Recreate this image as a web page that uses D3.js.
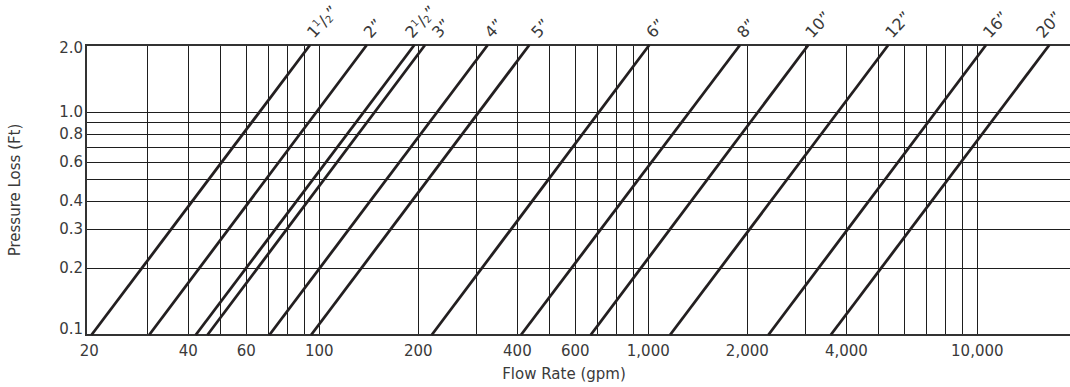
<!DOCTYPE html>
<html>
<head>
<meta charset="utf-8">
<script src="https://cdn.jsdelivr.net/npm/d3@7"></script>
<style>
  html, body { margin: 0; padding: 0; background: #fff; }
  svg { display: block; }
  text { font-family: "DejaVu Sans", sans-serif; fill: #3a3a3a; }
</style>
</head>
<body>
<svg id="chart" width="1070" height="387"></svg>
<script>
// ---- data ----
const pipeSizes   = ["1½", "2", "2½", "3", "4", "5", "6", "8", "10", "12", "16", "20"];
// flow (gpm) where each pipe line meets 0.1 ft and 2.0 ft of pressure loss
const flowAtLow   = [20.3, 30.4, 42.1, 45.7, 70.5, 94.4, 219.6, 410, 668, 1164, 2316, 3584];
const flowAtHigh  = [93.7, 139.4, 194.5, 209.6, 325, 434.8, 1007, 1900, 3064, 5363, 10626, 16550];
const lossLow     = 0.1;
const lossHigh    = 2.0;

const xTickValues = [20, 40, 60, 100, 200, 400, 600, 1000, 2000, 4000, 10000];
const xGridValues = [30, 40, 50, 60, 70, 80, 90, 100, 200, 300, 400, 500, 600, 700, 800, 900,
                     1000, 2000, 3000, 4000, 5000, 6000, 7000, 8000, 9000, 10000];
const yTickValues = [2.0, 1.0, 0.8, 0.6, 0.4, 0.3, 0.2, 0.1];
const yGridValues = [1.0, 0.9, 0.8, 0.7, 0.6, 0.5, 0.4, 0.3, 0.2];

const xTitle = "Flow Rate (gpm)";
const yTitle = "Pressure Loss (Ft)";

// ---- layout ----
const pL = 86, pR = 1070, pT = 45, pB = 335;
const svg = d3.select("#chart");

const x = d3.scaleLog().domain([19.54, 19130]).range([pL, pR]);
const y = d3.scaleLog().domain([0.1, 2.0]).range([pB, pT]);

const ink = "#231f20";
const grid = svg.append("g").attr("shape-rendering", "crispEdges");

// vertical grid
grid.selectAll("line.vx").data(xGridValues).join("line")
  .attr("x1", d => Math.round(x(d)) + 0.5).attr("x2", d => Math.round(x(d)) + 0.5)
  .attr("y1", pT).attr("y2", pB)
  .attr("stroke", "#1e1e1e").attr("stroke-width", 1);

// horizontal grid
grid.selectAll("line.hy").data(yGridValues).join("line")
  .attr("x1", pL).attr("x2", pR)
  .attr("y1", d => Math.round(y(d)) + 0.5).attr("y2", d => Math.round(y(d)) + 0.5)
  .attr("stroke", "#1e1e1e").attr("stroke-width", 1);

// frame (top, bottom, left)
grid.append("line").attr("x1", pL - 1).attr("x2", pR).attr("y1", pT).attr("y2", pT)
  .attr("stroke", "#333").attr("stroke-width", 2);
grid.append("line").attr("x1", pL - 1).attr("x2", pR).attr("y1", pB).attr("y2", pB)
  .attr("stroke", "#333").attr("stroke-width", 2);
grid.append("line").attr("x1", pL).attr("x2", pL).attr("y1", pT).attr("y2", pB + 1)
  .attr("stroke", "#333").attr("stroke-width", 2);

// pipe lines
svg.append("g").selectAll("line").data(pipeSizes).join("line")
  .attr("x1", (d, i) => x(flowAtLow[i])).attr("y1", y(lossLow))
  .attr("x2", (d, i) => x(flowAtHigh[i])).attr("y2", y(lossHigh))
  .attr("stroke", ink).attr("stroke-width", 2.8);

// pipe labels
const labelNudge = { "2½": -6, "3": 10, "5": 5, "20": -10 };
const labels = svg.append("g");
pipeSizes.forEach((s, i) => {
  const px = x(flowAtHigh[i]) + 4 + (labelNudge[s] || 0);
  const t = labels.append("text")
    .attr("transform", `translate(${px},${pT - 6}) rotate(-47)`)
    .attr("font-size", 16);
  if (s.includes("½")) {
    t.append("tspan").text(s.replace("½", ""));
    t.append("tspan").attr("font-size", 10).attr("dy", -6).text("1");
    t.append("tspan").attr("dy", 6).text("/");
    t.append("tspan").attr("font-size", 10).attr("dy", 1).text("2");
    t.append("tspan").attr("dy", -1).text("\u201D");
  } else {
    t.text(s + "\u201D");
  }
});

// x tick labels
const fmt = d3.format(",");
svg.append("g").selectAll("text").data(xTickValues).join("text")
  .attr("x", d => x(d)).attr("y", 356)
  .attr("text-anchor", "middle").attr("font-size", 15)
  .text(d => fmt(d));

// y tick labels
svg.append("g").selectAll("text").data(yTickValues).join("text")
  .attr("x", 83)
  .attr("y", d => d === 2.0 ? y(d) + 3 : d === 0.1 ? y(d) - 6 : y(d))
  .attr("dy", "0.36em")
  .attr("text-anchor", "end").attr("font-size", 15)
  .text(d => d3.format(".1f")(d));

// axis titles
svg.append("text").attr("x", 564).attr("y", 379)
  .attr("text-anchor", "middle").attr("font-size", 15).text(xTitle);
svg.append("text")
  .attr("transform", `translate(20,${(pT + pB) / 2}) rotate(-90)`)
  .attr("text-anchor", "middle").attr("font-size", 15).text(yTitle);
</script>
</body>
</html>
